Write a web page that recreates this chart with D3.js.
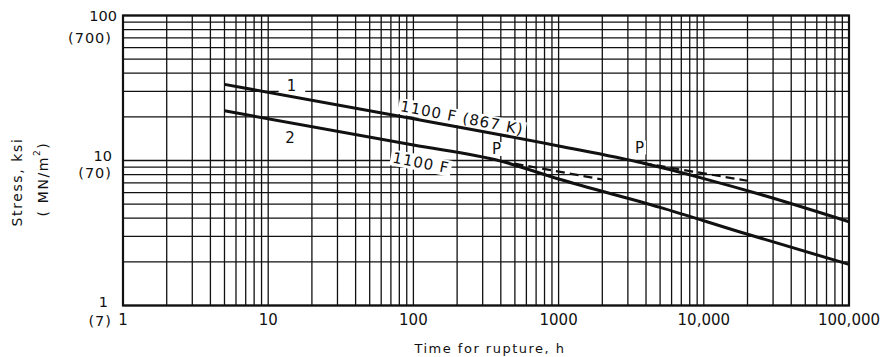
<!DOCTYPE html>
<html><head><meta charset="utf-8">
<script src="https://cdn.jsdelivr.net/npm/d3@7"></script>
<style>
html,body{margin:0;padding:0;background:#fff;}
svg text{font-family:"DejaVu Sans",sans-serif;fill:#111;}
</style></head>
<body>
<svg id="chart" width="883" height="357"></svg>
<script>
// ---- data ----
const xTickValues = [1, 10, 100, 1000, 10000, 100000];
const xTickLabels = ["1", "10", "100", "1000", "10,000", "100,000"];
const yTickValues = [100, 10, 1];
const yTickLabels = ["100", "10", "1"];
const yTickLabelsSI = ["(700)", "(70)", "(7)"];
// curve 1: time (h) vs stress (ksi)
const curve1Time   = [5, 100, 1000, 3800, 10000, 25000, 100000];
const curve1Stress = [33.5, 19.4, 12.6, 9.6, 7.5, 5.8, 3.78];
// curve 2
const curve2Time   = [5, 100, 400, 1000, 5000, 18000, 100000];
const curve2Stress = [22.0, 12.8, 9.9, 7.45, 4.75, 3.2, 1.92];
// dashed extrapolations from the P points
const dash1Time   = [3800, 20000];
const dash1Stress = [9.6, 7.25];
const dash2Time   = [400, 2000];
const dash2Stress = [9.9, 7.4];

const svg = d3.select("#chart");
const L = 123, R = 849, T = 15.5, B = 305.5;
const x = d3.scaleLog().domain([1, 1e5]).range([L, R]);
const y = d3.scaleLog().domain([1, 100]).range([B, T]);

const gGrid = svg.append("g");
const gBg = svg.append("g");
const gCurves = svg.append("g");
const gText = svg.append("g");

// grid
gGrid.selectAll("line.vx").data(x.ticks()).join("line")
  .attr("x1", d => x(d)).attr("x2", d => x(d)).attr("y1", T).attr("y2", B)
  .attr("stroke", "#111").attr("stroke-width", 1.3);
gGrid.selectAll("line.hy").data(y.ticks()).join("line")
  .attr("y1", d => y(d)).attr("y2", d => y(d)).attr("x1", L).attr("x2", R)
  .attr("stroke", "#111").attr("stroke-width", 1.3);
gCurves.append("rect").attr("x", L).attr("y", T).attr("width", R - L).attr("height", B - T)
  .attr("fill", "none").attr("stroke", "#111").attr("stroke-width", 2.2);

const line = d3.line().x(d => x(d[0])).y(d => y(d[1])).curve(d3.curveMonotoneX);
const zip = (a, b) => a.map((v, i) => [v, b[i]]);

gCurves.append("path").attr("d", line(zip(curve1Time, curve1Stress)))
  .attr("fill", "none").attr("stroke", "#111").attr("stroke-width", 3);
gCurves.append("path").attr("d", line(zip(curve2Time, curve2Stress)))
  .attr("fill", "none").attr("stroke", "#111").attr("stroke-width", 3);
[[dash1Time, dash1Stress], [dash2Time, dash2Stress]].forEach(([t, s]) => {
  gCurves.append("path").attr("d", line(zip(t, s)))
    .attr("fill", "none").attr("stroke", "#111").attr("stroke-width", 2.2)
    .attr("stroke-dasharray", "9,5");
});

// labels in plot (with white background blocking the grid)
function label(txt, cx, cy, rot, size, padX, padY) {
  const tr = `translate(${cx},${cy}) rotate(${rot})`;
  const t = gText.append("text").text(txt)
    .attr("transform", tr)
    .attr("text-anchor", "middle").attr("dominant-baseline", "central")
    .attr("font-size", size).attr("letter-spacing", 1);
  const bb = t.node().getBBox();
  gBg.append("rect").attr("transform", tr)
    .attr("x", bb.x - padX).attr("y", bb.y + 2 - padY)
    .attr("width", bb.width + 2 * padX).attr("height", bb.height - 4 + 2 * padY)
    .attr("fill", "#fff");
}
label("1100 F (867 K)", 462, 118, 11, 15, 2, 1);
label("1100 F", 421, 163, 11, 15, 2, 1);
label("P", 497, 149, 0, 15, 1, 0);
label("P", 640, 147.5, 0, 15, 1, 0);
label("1", 292, 86, 0, 15, 8, 1);
label("2", 290.5, 137.5, 0, 15, 2, 0);

// y tick labels
const yPrimDy = [0.5, -5, -3.5];
const ySecDy = [22.5, 12, 15.5];
const yPrimX = [117, 112, 108];
yTickValues.forEach((v, i) => {
  gText.append("text").text(yTickLabels[i]).attr("x", yPrimX[i]).attr("y", y(v) + yPrimDy[i])
    .attr("text-anchor", "end").attr("dominant-baseline", "central").attr("font-size", 14.5);
  gText.append("text").text(yTickLabelsSI[i]).attr("x", 112).attr("y", y(v) + ySecDy[i])
    .attr("text-anchor", "end").attr("dominant-baseline", "central").attr("font-size", 14.5)
    .attr("letter-spacing", 1);
});
// x tick labels
xTickValues.forEach((v, i) => {
  gText.append("text").text(xTickLabels[i]).attr("x", x(v)).attr("y", 320)
    .attr("text-anchor", "middle").attr("dominant-baseline", "central").attr("font-size", 15);
});
// axis titles
gText.append("text").text("Time for rupture, h").attr("x", 490).attr("y", 348)
  .attr("text-anchor", "middle").attr("dominant-baseline", "central")
  .attr("font-size", 13).attr("letter-spacing", 1.5);
gText.append("text").text("Stress, ksi")
  .attr("transform", "translate(17,182) rotate(-90)")
  .attr("text-anchor", "middle").attr("dominant-baseline", "central")
  .attr("font-size", 14).attr("letter-spacing", 1.6);
const t2 = gText.append("text")
  .attr("transform", "translate(43,179) rotate(-90)")
  .attr("text-anchor", "middle").attr("dominant-baseline", "central")
  .attr("font-size", 14).attr("letter-spacing", 1.6);
t2.append("tspan").text("( MN/m");
t2.append("tspan").text("2").attr("font-size", 9).attr("dy", -6);
t2.append("tspan").text(")").attr("dy", 6);
</script>
</body></html>
